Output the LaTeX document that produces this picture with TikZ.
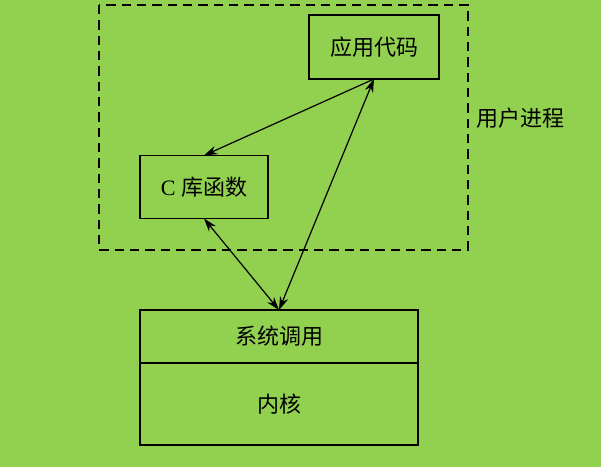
\documentclass[tikz,border=0pt]{standalone}
\usepackage{fontspec}
\setmainfont{Liberation Serif}
\newfontfamily\cjk{Noto Sans CJK SC}
\usepackage{tikz}
\usetikzlibrary{arrows.meta}
\definecolor{bggreen}{RGB}{146,208,80}

\begin{document}
\begin{tikzpicture}[x=0.75pt,y=-0.75pt,font=\fontsize{16.5}{20}\selectfont]
            \tikzstyle{box}=[draw=black,line width=1.4pt,inner sep=0pt,outer sep=0pt]
            \tikzstyle{link}=[line width=0.9pt,>={Stealth[length=10pt,width=6.5pt]}]

                \fill[bggreen] (0,0) rectangle (601,467);
                \useasboundingbox (0,0) rectangle (601,467);

                \draw[line width=1.1pt,dash pattern=on 7pt off 4.5pt] (99,5) rectangle (468,250);
                \node (user) at (520,118){\cjk 用户进程};

                \node[box,minimum width=97.5pt,minimum height=48pt] (app) at (374,47){\cjk 应用代码};
                \node[box,minimum width=96pt,minimum height=47.25pt] (clib) at (204,187){C {\cjk 库函数}};
                \node[box,minimum width=208.5pt,minimum height=39.75pt] (sys) at (279,336.5){\cjk 系统调用};
                \node[box,minimum width=208.5pt,minimum height=61.5pt,anchor=north] (kern) at (sys.south){\cjk 内核};

                \draw[link,->] (app.south) -- (clib.north);
                \foreach \from/\to in {app/sys, clib/sys}
                    \draw[link,<->] (\from.south) -- (\to.north);
        \end{tikzpicture}
\end{document}
